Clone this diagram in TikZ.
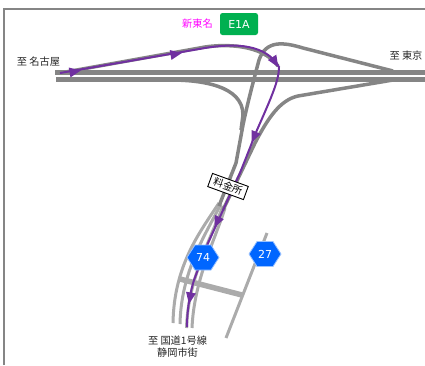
\documentclass[tikz,border=0pt]{standalone}
\usepackage{fontspec}
\setmainfont{DejaVu Sans}
\newfontfamily\jpfont{Noto Sans CJK JP}
\definecolor{roadd}{HTML}{858585}
\definecolor{roadl}{HTML}{ABABAB}
\definecolor{route}{HTML}{7030A0}
\definecolor{hexblue}{HTML}{0066FF}
\definecolor{hexedge}{HTML}{99C2FF}
\definecolor{egreen}{HTML}{00B050}
\definecolor{pinktext}{HTML}{FF00FF}
\tikzset{
  x=1pt,y=-1pt,
  main/.style={draw=roadd,line width=4.6pt},
  ramp/.style={draw=roadd,line width=3.5pt,line join=round},
  lightroad/.style={draw=roadl,line width=3pt},
  routeline/.style={draw=route,line width=2pt},
  head/.style={fill=route,draw=none},
  label/.style={font=\jpfont\fontsize{10.2}{12.5}\selectfont,text=black!85,align=center,inner sep=0pt},
  hexa/.style={text=white,inner sep=0pt,font=\fontsize{11}{13}\selectfont},
  hexshape/.style={fill=hexblue,draw=hexedge,line width=.8pt,line join=round},
}
\newcommand{\rhead}[3]{\fill[head,shift={(#1,#2)},rotate=#3] (6,0) -- (-5.5,-5) -- (-5.5,5) -- cycle;}
\newcommand{\hexat}[2]{\path[hexshape,shift={(#1,#2)}] (-16,0) -- (-8,-12.5) -- (8,-12.5) -- (16,0) -- (8,12.5) -- (-8,12.5) -- cycle;}
\begin{document}
\begin{tikzpicture}
\useasboundingbox (0,0) rectangle (425,365);
% frame
\draw[draw=roadd,line width=2pt] (3.5,365) -- (3.5,8.5) -- (425,8.5);
% light roads
\draw[lightroad] (219,203) .. controls (200,232) and (174,265) .. (173,323);
\draw[lightroad] (221,204) .. controls (205,235) and (181,272) .. (180,324);
\draw[lightroad] (223,206) .. controls (210,240) and (188,280) .. (186.5,328);
\draw[lightroad] (225,208) .. controls (215,240) and (194,280) .. (192,328);
\draw[draw=roadl,line width=5.5pt] (180,279) -- (242,295);
\draw[lightroad] (267,233) -- (226,338);
% dark roads
\draw[main] (55,72.5) -- (425,72.5);
\draw[main] (56,79.5) -- (425,79.5);
\draw[ramp] (60,73) -- (205,47) .. controls (225,44) and (262,44) .. (278,66);
\draw[ramp] (393,71) -- (303,48) .. controls (283,42) and (266,40) .. (259,60) .. controls (255,75) and (247,105) .. (243,125) -- (236,163) -- (219,206);
\draw[ramp] (56,80) -- (170,80) .. controls (200,80) and (243,85) .. (243,115) -- (241,130);
\draw[ramp] (393,80) -- (298,96) .. controls (280,100) and (268,118) .. (255,143) -- (223,210);
% route
\draw[routeline] (60,73) -- (205,48) .. controls (235,43) and (266,44) .. (279,67)
  .. controls (279,80) and (272,96) .. (257,130) -- (240,173) -- (208,243) -- (194,280)
  .. controls (189,297) and (187,312) .. (187,327);
\rhead{75}{71.5}{10}
\rhead{176}{54}{10}
\rhead{275}{62}{-58}
\rhead{254}{137}{-113}
\rhead{217}{222}{-115}
\rhead{190}{298}{-100}
% labels
\node[label] (nagoya) at (38.5,62) {至 名古屋};
\node[label] (tokyo) at (406,56) {至 東京};
\node[label,text=pinktext] (shintomei) at (197.5,24) {新東名};
\node[fill=egreen,rounded corners=2.5pt,text=white,minimum width=38pt,minimum height=22pt,inner sep=0pt,font=\fontsize{11}{13}\selectfont] (e1a) at (239,24) {E1A};
\node[draw=black,fill=white,line width=.9pt,rotate=-20,minimum width=38pt,minimum height=14pt,inner sep=0pt,font=\jpfont\fontsize{10}{11}\selectfont] (toll) at (228,186.5) {料金所};
\hexat{203}{257.5}
\hexat{265}{254}
\node[hexa] (r74) at (203,257.5) {74};
\node[hexa] (r27) at (265,254) {27};
\node[label] (dest) at (177.5,346.5) {至 国道1号線\\静岡市街};
\end{tikzpicture}
\end{document}
